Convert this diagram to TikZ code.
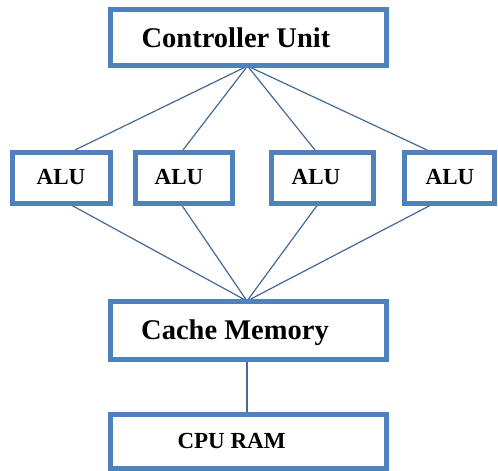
\documentclass[tikz,border=0pt]{standalone}
\usepackage{fontspec}
\setmainfont{Liberation Serif}
\usetikzlibrary{backgrounds}
\definecolor{boxblue}{RGB}{79,129,189}
\definecolor{linkblue}{RGB}{70,104,152}
\begin{document}
\begin{tikzpicture}[x=1pt,y=-1pt,
  unitbox/.style={draw=boxblue,line width=5pt,fill=white,inner sep=0pt},
  lbl/.style={anchor=base,inner sep=0pt,font=\bfseries},
  link/.style={draw=linkblue,line width=1.2pt}]
\useasboundingbox (0,0) rectangle (498,471);
% boxes
\node[unitbox,minimum width=276pt,minimum height=56pt] (ctrl) at (248.5,37.5) {};
\node[unitbox,minimum width=98pt,minimum height=50.5pt] (a1) at (61.5,177.75) {};
\node[unitbox,minimum width=97pt,minimum height=50.5pt] (a2) at (184,177.75) {};
\node[unitbox,minimum width=102pt,minimum height=50.5pt] (a3) at (322.5,177.75) {};
\node[unitbox,minimum width=90pt,minimum height=50.5pt] (a4) at (449.5,177.75) {};
\node[unitbox,minimum width=276pt,minimum height=58pt] (cache) at (248.5,330.5) {};
\node[unitbox,minimum width=276pt,minimum height=54pt] (ram) at (248.5,441.5) {};
% texts
\node[lbl,font=\fontsize{28.5}{31}\selectfont\bfseries] (ctrlT) at (236,47) {Controller Unit};
\node[lbl,font=\fontsize{23}{26}\selectfont\bfseries] (a1T) at (61,184) {ALU};
\node[lbl,font=\fontsize{23}{26}\selectfont\bfseries] (a2T) at (179,184) {ALU};
\node[lbl,font=\fontsize{23}{26}\selectfont\bfseries] (a3T) at (316,184) {ALU};
\node[lbl,font=\fontsize{23}{26}\selectfont\bfseries] (a4T) at (450,184) {ALU};
\node[lbl,font=\fontsize{28.5}{31}\selectfont\bfseries] (cacheT) at (235,339) {Cache Memory};
\node[lbl,font=\fontsize{23}{26}\selectfont\bfseries] (ramT) at (231.5,448) {CPU RAM};
% connectors
\coordinate (ctop) at (247.5,66);
\coordinate (cbot) at (247,301);
\begin{scope}[on background layer]
\draw[link] (ctop) -- ([xshift=13.5pt]a1.north);
\draw[link] (ctop) -- ([xshift=-1pt]a2.north);
\draw[link] (ctop) -- ([xshift=-7.5pt]a3.north);
\draw[link] (ctop) -- ([xshift=-22.5pt]a4.north);
\draw[link] ([xshift=10.5pt]a1.south) -- (cbot);
\draw[link] ([xshift=-2pt]a2.south) -- (cbot);
\draw[link] ([xshift=-5.5pt]a3.south) -- (cbot);
\draw[link] ([xshift=-19.5pt]a4.south) -- (cbot);
\draw[link] (cache.south -| cbot) -- (ram.north -| cbot);
\end{scope}
\end{tikzpicture}
\end{document}
